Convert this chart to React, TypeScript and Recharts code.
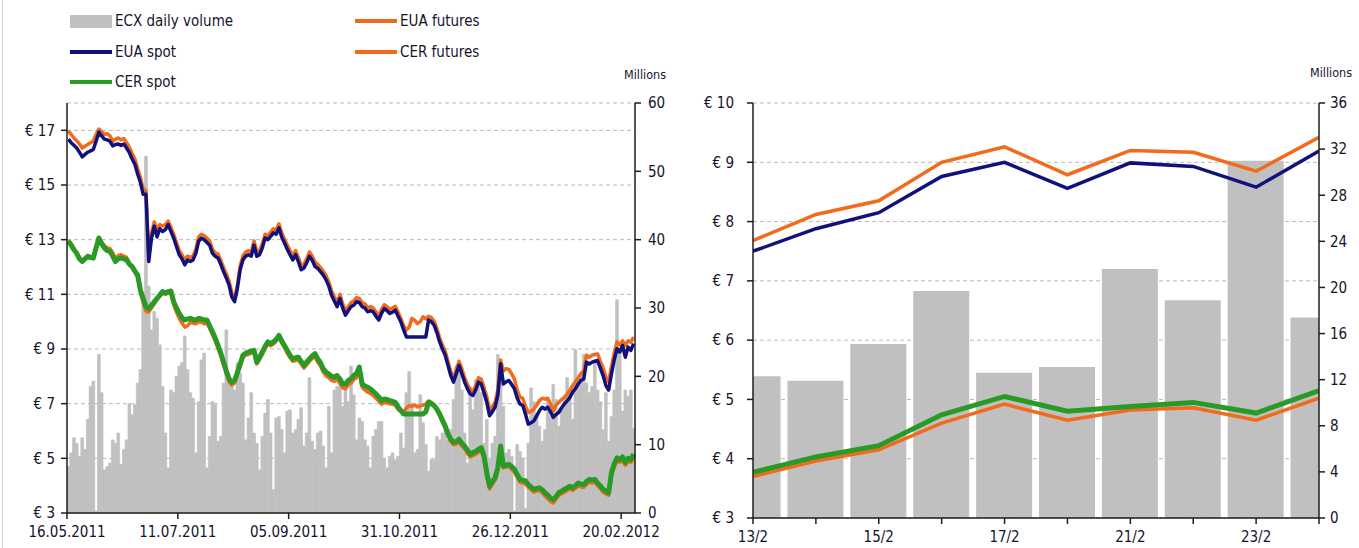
import { ComposedChart, Bar, Line, XAxis, YAxis, CartesianGrid } from "recharts";

// ---- left panel: daily data 16.05.2011 - 24.02.2012 (trading days) ----
const LEFT_DATE_LABELS = ["16.05.2011", "11.07.2011", "05.09.2011", "31.10.2011", "26.12.2011", "20.02.2012"];
const LEFT_DATE_INDEX = [0, 40, 80, 120, 160, 200];

const ECX_VOLUME = [
  6.8, 8.8, 11, 10.2, 8.3, 11, 9.3, 13.7, 18.5, 19.3,
  0.3, 23.2, 17.6, 6.3, 6.8, 7.3, 10.7, 10.2, 11.7, 7.1,
  9.3, 10.7, 16, 14.4, 15.9, 19, 21, 30.7, 52.2, 33.2,
  26.8, 29.5, 28.5, 24.6, 18.5, 11.7, 6.6, 18, 17.6, 20,
  21.5, 22, 25.9, 21, 17.6, 16.8, 8.8, 16.3, 22.4, 23.4,
  6.6, 11.2, 16.3, 15.9, 10.5, 11.2, 19, 26.8, 19, 18.8,
  18, 22, 20.5, 19, 10.7, 13.9, 17.6, 11.7, 10.2, 6.3,
  11.2, 14.6, 16.6, 11.7, 3.4, 13.9, 14.1, 12.2, 8.8, 14.9,
  15.1, 11.7, 12.2, 13.7, 15.4, 9.8, 11.7, 19.8, 10.5, 9.3,
  11.7, 12, 9.8, 6.6, 15.6, 8.8, 18, 18.5, 18.8, 15.6,
  19.3, 16.3, 21.5, 17.3, 10.7, 13.9, 13.4, 10.7, 9.8, 6.6,
  11.2, 12.2, 13.4, 13.4, 8, 6.6, 8.3, 8.8, 7.8, 8.3,
  11.7, 9.5, 17.6, 20.7, 16.1, 8.8, 9.3, 17.3, 13.2, 10,
  6.1, 7.8, 7.8, 11.2, 10.7, 11.7, 12.2, 10.7, 12.2, 16.6,
  21.5, 21.2, 18, 11.7, 7.3, 18.5, 15.1, 19.5, 19.3, 17.6,
  10.2, 13.7, 7.8, 10.2, 11.2, 23.2, 20.7, 15.6, 8.8, 9.3,
  8.3, 0.3, 10, 9, 8, 0.7, 10.2, 18.3, 16.3, 14.6,
  12.7, 10.5, 12.2, 16.6, 14.1, 18.8, 16.6, 12.7, 15.4, 17.1,
  19.8, 17.8, 13.7, 23.9, 19, 20.5, 23.2, 19, 17.6, 18.5,
  22, 18, 16.3, 12.2, 17.6, 10.5, 14.1, 18, 31.2, 23.4,
  14.9, 18, 17.1, 18, 12.4,
];

const EUA_SPOT = [
  16.68, 16.55, 16.45, 16.35, 16.2, 16.03, 16.12, 16.2, 16.25, 16.3,
  16.6, 16.93, 16.8, 16.68, 16.65, 16.6, 16.43, 16.48, 16.5, 16.45,
  16.5, 16.35, 16.19, 15.95, 15.76, 15.4, 15.09, 14.66, 14.66, 12.2,
  13.06, 13.49, 13.1, 13.4, 13.3, 13.37, 13.55, 13.3, 13.06, 12.75,
  12.45, 12.3, 12.08, 12.25, 12.2, 12.26, 12.5, 12.94, 13.05, 13.0,
  12.9, 12.8, 12.5, 12.39, 12.33, 12.1, 11.83, 11.6, 11.34, 10.9,
  10.73, 11.22, 11.9, 12.26, 12.4, 12.45, 12.4, 12.8, 12.39, 12.45,
  12.7, 13.06, 13.0, 13.12, 13.25, 13.2, 13.43, 13.1, 12.88, 12.65,
  12.45, 12.26, 12.45, 12.2, 11.9, 11.96, 12.15, 12.39, 12.25, 12.02,
  11.95, 11.83, 11.7, 11.53, 11.3, 10.97, 10.75, 10.55, 10.85, 10.5,
  10.24, 10.4, 10.55, 10.6, 10.73, 10.7, 10.55, 10.5, 10.36, 10.4,
  10.36, 10.2, 10.06, 10.3, 10.48, 10.4, 10.3, 10.35, 10.42, 10.2,
  9.99, 9.7, 9.44, 9.44, 9.44, 9.44, 9.44, 9.44, 9.44, 9.44,
  10.06, 10.0, 9.87, 9.6, 9.26, 9.0, 8.77, 8.4, 8.03, 7.79,
  8.1, 8.4, 8.1, 7.79, 7.55, 7.36, 7.3, 7.5, 7.79, 7.72,
  7.4, 7.05, 6.56, 6.7, 6.87, 7.3, 8.46, 7.72, 7.8, 7.85,
  7.7, 7.54, 7.2, 6.99, 6.93, 6.6, 6.25, 6.3, 6.37, 6.55,
  6.74, 6.87, 6.8, 6.87, 6.7, 6.5, 6.6, 6.68, 6.85, 6.99,
  7.1, 7.23, 7.42, 7.55, 7.72, 7.85, 7.91, 8.52, 8.45, 8.52,
  8.55, 8.58, 8.3, 8.03, 7.66, 7.5, 8.09, 8.6, 9.01, 8.89,
  9.13, 8.7, 9.07, 8.95, 9.2,
];

const EUA_FUTURES = [
  16.98, 16.85, 16.72, 16.62, 16.5, 16.35, 16.42, 16.48, 16.55, 16.6,
  16.85, 17.05, 16.95, 16.85, 16.88, 16.8, 16.6, 16.68, 16.72, 16.65,
  16.7, 16.55, 16.38, 16.15, 15.95, 15.6, 15.28, 14.85, 14.8, 12.4,
  13.25, 13.65, 13.35, 13.55, 13.5, 13.55, 13.68, 13.45, 13.2, 12.9,
  12.6, 12.45, 12.25, 12.4, 12.35, 12.4, 12.65, 13.1, 13.2, 13.15,
  13.05, 12.95, 12.65, 12.52, 12.48, 12.25, 11.98, 11.75, 11.48, 11.05,
  10.85, 11.35, 12.05, 12.4, 12.55, 12.6, 12.55, 12.95, 12.55, 12.6,
  12.85, 13.2, 13.15, 13.28, 13.4, 13.35, 13.58, 13.25, 13.02, 12.8,
  12.6, 12.42, 12.6, 12.35, 12.05, 12.1, 12.3, 12.55, 12.4, 12.18,
  12.1, 11.98, 11.85, 11.68, 11.45, 11.12, 10.9, 10.7, 11.0, 10.65,
  10.4, 10.55, 10.7, 10.75, 10.88, 10.85, 10.7, 10.65, 10.52, 10.55,
  10.5, 10.36, 10.2, 10.45, 10.62, 10.55, 10.45, 10.5, 10.56, 10.35,
  10.12, 9.85, 9.69, 9.8, 10.12, 10.05, 9.93, 10.0, 10.18, 10.1,
  10.2, 10.15, 10.02, 9.75, 9.4, 9.15, 8.92, 8.55, 8.18, 7.95,
  8.25, 8.55, 8.28, 7.95, 7.72, 7.52, 7.45, 7.65, 7.95, 7.9,
  7.6, 7.25, 6.75, 6.9, 7.05, 7.5, 8.6, 8.2, 8.28, 8.25,
  8.09, 7.9, 7.5, 7.23, 7.2, 6.9, 6.68, 6.72, 6.8, 6.95,
  7.11, 7.2, 7.17, 7.2, 7.0, 6.74, 6.95, 7.05, 7.15, 7.23,
  7.35, 7.5, 7.66, 7.8, 7.95, 8.1, 8.2, 8.77, 8.7, 8.77,
  8.8, 8.82, 8.55, 8.3, 7.97, 7.8, 8.35, 8.85, 9.26, 9.15,
  9.3, 9.13, 9.3, 9.25, 9.44,
];

const CER_SPOT = [
  12.94, 12.8, 12.63, 12.5, 12.3, 12.2, 12.3, 12.39, 12.35, 12.33,
  12.7, 13.06, 12.85, 12.7, 12.6, 12.57, 12.4, 12.2, 12.3, 12.33,
  12.3, 12.26, 12.1, 12.02, 11.85, 11.71, 11.16, 10.85, 10.55, 10.48,
  10.6, 10.73, 10.85, 10.97, 11.1, 11.05, 11.1, 11.12, 10.73, 10.5,
  10.3, 10.15, 10.06, 10.1, 10.12, 10.08, 10.06, 10.12, 10.1, 10.06,
  10.06, 9.85, 9.63, 9.4, 9.13, 8.85, 8.52, 8.2, 7.91, 7.79,
  7.85, 8.15, 8.45, 8.77, 8.85, 8.89, 8.92, 8.95, 8.52, 8.7,
  8.89, 9.1, 9.26, 9.2, 9.26, 9.35, 9.5, 9.3, 9.13, 8.95,
  8.77, 8.64, 8.68, 8.7, 8.55, 8.4, 8.52, 8.64, 8.75, 8.83,
  8.64, 8.5, 8.27, 8.15, 8.09, 8.0, 7.97, 8.03, 7.9, 7.72,
  7.72, 7.85, 7.91, 8.03, 8.1, 8.34, 7.72, 7.65, 7.6, 7.54,
  7.45, 7.36, 7.25, 7.11, 7.17, 7.15, 7.11, 7.08, 7.05, 6.87,
  6.75, 6.62, 6.62, 6.62, 6.62, 6.62, 6.62, 6.62, 6.62, 6.7,
  7.05, 7.0, 6.93, 6.8, 6.62, 6.4, 6.19, 5.9, 5.7, 5.58,
  5.62, 5.7, 5.55, 5.45, 5.3, 5.15, 5.21, 5.25, 5.33, 5.39,
  5.09, 4.47, 3.98, 4.15, 4.29, 4.66, 5.45, 4.72, 4.75, 4.78,
  4.7, 4.6, 4.4, 4.23, 4.2, 4.17, 4.04, 3.95, 3.86, 3.9,
  3.92, 3.85, 3.74, 3.65, 3.55, 3.49, 3.6, 3.74, 3.8, 3.86,
  3.92, 3.98, 3.92, 4.0, 4.1, 4.05, 4.04, 4.15, 4.23, 4.2,
  4.23, 4.1, 4.0, 3.86, 3.8, 3.74, 4.47, 4.8, 5.02, 4.95,
  5.05, 4.85, 5.0, 4.95, 5.15,
];

const CER_FUTURES = [
  12.98, 12.85, 12.68, 12.52, 12.33, 12.22, 12.32, 12.42, 12.38, 12.36,
  12.72, 13.05, 12.9, 12.78, 12.7, 12.68, 12.52, 12.3, 12.42, 12.45,
  12.4, 12.35, 12.15, 12.0, 11.8, 11.62, 11.05, 10.7, 10.38, 10.35,
  10.5, 10.65, 10.8, 10.95, 11.05, 11.0, 11.05, 11.05, 10.62, 10.35,
  10.12, 9.95, 9.8, 9.85, 9.98, 9.95, 9.92, 10.0, 9.98, 9.92,
  9.95, 9.75, 9.52, 9.3, 9.02, 8.75, 8.42, 8.08, 7.8, 7.68,
  7.75, 8.05, 8.35, 8.68, 8.78, 8.8, 8.85, 8.88, 8.45, 8.62,
  8.8, 9.02, 9.18, 9.12, 9.18, 9.28, 9.42, 9.22, 9.05, 8.85,
  8.68, 8.55, 8.58, 8.6, 8.45, 8.3, 8.42, 8.55, 8.65, 8.72,
  8.52, 8.38, 8.15, 8.02, 7.95, 7.85, 7.82, 7.88, 7.75, 7.58,
  7.55, 7.68, 7.75, 7.88, 7.95, 8.2, 7.6, 7.5, 7.42, 7.38,
  7.3, 7.2, 7.1, 6.98, 7.05, 7.02, 7.0, 6.98, 6.95, 6.78,
  6.72, 6.68, 6.85, 6.93, 6.9, 6.95, 6.88, 6.92, 6.95, 6.98,
  7.1, 7.05, 6.95, 6.75, 6.55, 6.32, 6.1, 5.82, 5.62, 5.5,
  5.52, 5.6, 5.45, 5.35, 5.18, 5.05, 5.1, 5.15, 5.22, 5.28,
  4.98, 4.35, 3.88, 4.05, 4.2, 4.58, 5.38, 4.65, 4.68, 4.7,
  4.6, 4.5, 4.3, 4.12, 4.1, 4.06, 3.94, 3.85, 3.76, 3.8,
  3.82, 3.75, 3.62, 3.52, 3.42, 3.37, 3.5, 3.64, 3.7, 3.76,
  3.82, 3.88, 3.82, 3.9, 4.0, 3.95, 3.94, 4.05, 4.12, 4.1,
  4.12, 4.0, 3.9, 3.76, 3.7, 3.65, 4.35, 4.68, 4.9, 4.85,
  4.92, 4.75, 4.88, 4.85, 5.02,
];

// ---- right panel: last two weeks ----
const RIGHT_DAYS = ["13/2", "14/2", "15/2", "16/2", "17/2", "20/2", "21/2", "22/2", "23/2", "24/2"];
const RIGHT_VOLUME = [12.3, 11.9, 15.1, 19.7, 12.6, 13.1, 21.6, 18.9, 31.0, 17.4];
const RIGHT_EUA_FUTURES = [7.68, 8.12, 8.35, 9.0, 9.26, 8.79, 9.2, 9.17, 8.85, 9.42];
const RIGHT_EUA_SPOT = [7.5, 7.88, 8.15, 8.76, 9.0, 8.56, 8.99, 8.93, 8.58, 9.19];
const RIGHT_CER_SPOT = [3.77, 4.03, 4.22, 4.74, 5.05, 4.8, 4.88, 4.95, 4.77, 5.15];
const RIGHT_CER_FUTURES = [3.7, 3.96, 4.15, 4.6, 4.92, 4.65, 4.82, 4.86, 4.65, 5.02];

const LEFT_EUR_TICKS = [3, 5, 7, 9, 11, 13, 15, 17];
const LEFT_VOL_TICKS = [0, 10, 20, 30, 40, 50, 60];
const RIGHT_EUR_TICKS = [3, 4, 5, 6, 7, 8, 9, 10];
const RIGHT_VOL_TICKS = [0, 4, 8, 12, 16, 20, 24, 28, 32, 36];

const FONT = "'DejaVu Sans Condensed', 'DejaVu Sans', sans-serif";
const TEXT = "#14142e";
const AXIS = "#1e1e1e";
const GRID = "#b8b8b8";
const BAR = "#c0c0c0";
const ORANGE = "#f26a1b";
const NAVY = "#11117c";
const GREEN = "#2a9a26";

const leftData = ECX_VOLUME.map((vol, i) => ({
  i,
  vol,
  euaSpot: EUA_SPOT[i],
  euaFut: EUA_FUTURES[i],
  cerSpot: CER_SPOT[i],
  cerFut: CER_FUTURES[i],
}));

const rightData = RIGHT_DAYS.map((day, i) => ({
  i,
  day,
  vol: RIGHT_VOLUME[i],
  euaSpot: RIGHT_EUA_SPOT[i],
  euaFut: RIGHT_EUA_FUTURES[i],
  cerSpot: RIGHT_CER_SPOT[i],
  cerFut: RIGHT_CER_FUTURES[i],
}));

const tickStyle = { fill: TEXT, fontSize: 15, fontFamily: FONT };
const axisLine = { stroke: AXIS, strokeWidth: 1.5 };
const tickLine = { stroke: AXIS, strokeWidth: 1.5 };

const LEFT_PLOT_W = 568;
const leftTickPos = LEFT_DATE_INDEX.map((d) => d - 0.5);

function LegendItem({ x, y, kind, color, label }: { x: number; y: number; kind: "box" | "line"; color: string; label: string }) {
  return (
    <div style={{ position: "absolute", left: x, top: y, display: "flex", alignItems: "center", height: 20 }}>
      <div
        style={{
          width: 42,
          height: kind === "box" ? 13 : 4,
          background: color,
          marginRight: 3,
        }}
      />
      <span style={{ fontFamily: FONT, fontSize: 15, color: TEXT, whiteSpace: "nowrap" }}>{label}</span>
    </div>
  );
}

function LeftPanel() {
  return (
    <ComposedChart width={680} height={548} data={leftData} margin={{ top: 103, right: 0, bottom: 0, left: 0 }}>
      <CartesianGrid yAxisId="eur" vertical={false} stroke={GRID} strokeDasharray="4 3" />
      <XAxis
        dataKey="i"
        type="number"
        domain={[-0.5, leftData.length - 0.5]}
        ticks={leftTickPos}
        interval={0}
        allowDecimals
        tickFormatter={(v) => LEFT_DATE_LABELS[leftTickPos.indexOf(v)] ?? ""}
        height={35}
        axisLine={axisLine}
        tickLine={tickLine}
        tickSize={6}
        tickMargin={7}
        tick={tickStyle}
      />
      <YAxis
        yAxisId="eur"
        domain={[3, 18]}
        ticks={LEFT_EUR_TICKS}
        interval={0}
        width={67}
        tickFormatter={(v) => `€ ${v}`}
        axisLine={axisLine}
        tickLine={tickLine}
        tickSize={6}
        tickMargin={6}
        tick={tickStyle}
      />
      <YAxis
        yAxisId="vol"
        orientation="right"
        domain={[0, 60]}
        ticks={LEFT_VOL_TICKS}
        interval={0}
        width={45}
        axisLine={axisLine}
        tickLine={tickLine}
        tickSize={6}
        tickMargin={7}
        tick={tickStyle}
      />
      <Bar
        yAxisId="vol"
        dataKey="vol"
        fill={BAR}
        stroke={BAR}
        strokeWidth={0.7}
        barSize={LEFT_PLOT_W / leftData.length - 0.0005}
        isAnimationActive={false}
      />
      <Line yAxisId="eur" dataKey="euaFut" stroke={ORANGE} strokeWidth={3.5} dot={false} isAnimationActive={false} strokeLinejoin="round" />
      <Line yAxisId="eur" dataKey="cerFut" stroke={ORANGE} strokeWidth={3.5} dot={false} isAnimationActive={false} strokeLinejoin="round" />
      <Line yAxisId="eur" dataKey="euaSpot" stroke={NAVY} strokeWidth={3.5} dot={false} isAnimationActive={false} strokeLinejoin="round" />
      <Line yAxisId="eur" dataKey="cerSpot" stroke={GREEN} strokeWidth={5} dot={false} isAnimationActive={false} strokeLinejoin="round" />
    </ComposedChart>
  );
}

function RightPanel() {
  return (
    <ComposedChart width={679} height={548} data={rightData} margin={{ top: 103, right: 0, bottom: 0, left: 0 }}>
      <CartesianGrid yAxisId="eur" vertical={false} stroke={GRID} strokeDasharray="4 3" />
      <XAxis
        dataKey="i"
        type="number"
        domain={[0, rightData.length - 1]}
        ticks={rightData.map((d) => d.i)}
        interval={0}
        allowDataOverflow
        tickFormatter={(v) => (v % 2 === 0 ? RIGHT_DAYS[v] : "")}
        height={30}
        axisLine={axisLine}
        tickLine={tickLine}
        tickSize={6}
        tickMargin={7}
        tick={tickStyle}
      />
      <YAxis
        yAxisId="eur"
        domain={[3, 10]}
        ticks={RIGHT_EUR_TICKS}
        interval={0}
        width={73}
        tickFormatter={(v) => `€ ${v}`}
        axisLine={axisLine}
        tickLine={tickLine}
        tickSize={6}
        tickMargin={13}
        tick={tickStyle}
      />
      <YAxis
        yAxisId="vol"
        orientation="right"
        domain={[0, 36]}
        ticks={RIGHT_VOL_TICKS}
        interval={0}
        width={40}
        axisLine={axisLine}
        tickLine={tickLine}
        tickSize={6}
        tickMargin={5}
        tick={tickStyle}
      />
      <Bar yAxisId="vol" dataKey="vol" fill={BAR} barSize={56} isAnimationActive={false} />
      <Line yAxisId="eur" dataKey="euaFut" stroke={ORANGE} strokeWidth={3.5} dot={false} isAnimationActive={false} />
      <Line yAxisId="eur" dataKey="cerFut" stroke={ORANGE} strokeWidth={3.5} dot={false} isAnimationActive={false} />
      <Line yAxisId="eur" dataKey="euaSpot" stroke={NAVY} strokeWidth={3.5} dot={false} isAnimationActive={false} />
      <Line yAxisId="eur" dataKey="cerSpot" stroke={GREEN} strokeWidth={5} dot={false} isAnimationActive={false} />
    </ComposedChart>
  );
}

export default function App() {
  return (
    <div style={{ position: "absolute", left: 0, top: 0, width: 1359, height: 548, background: "#fff", overflow: "hidden" }}>
      <div style={{ position: "absolute", left: 2, top: 0, width: 1, height: 548, background: "#d4d4d4" }} />
      <div style={{ position: "absolute", left: 0, top: 0 }}>
        <LeftPanel />
      </div>
      <div style={{ position: "absolute", left: 680, top: 0 }}>
        <RightPanel />
      </div>
      <LegendItem x={70} y={11} kind="box" color={BAR} label="ECX daily volume" />
      <LegendItem x={355} y={11} kind="line" color={ORANGE} label="EUA futures" />
      <LegendItem x={70} y={42} kind="line" color={NAVY} label="EUA spot" />
      <LegendItem x={355} y={42} kind="line" color={ORANGE} label="CER futures" />
      <LegendItem x={70} y={72} kind="line" color={GREEN} label="CER spot" />
      <div style={{ position: "absolute", left: 624, top: 67, fontFamily: FONT, fontSize: 12.5, color: TEXT }}>Millions</div>
      <div style={{ position: "absolute", left: 1310, top: 65, fontFamily: FONT, fontSize: 12.5, color: TEXT }}>Millions</div>
    </div>
  );
}
